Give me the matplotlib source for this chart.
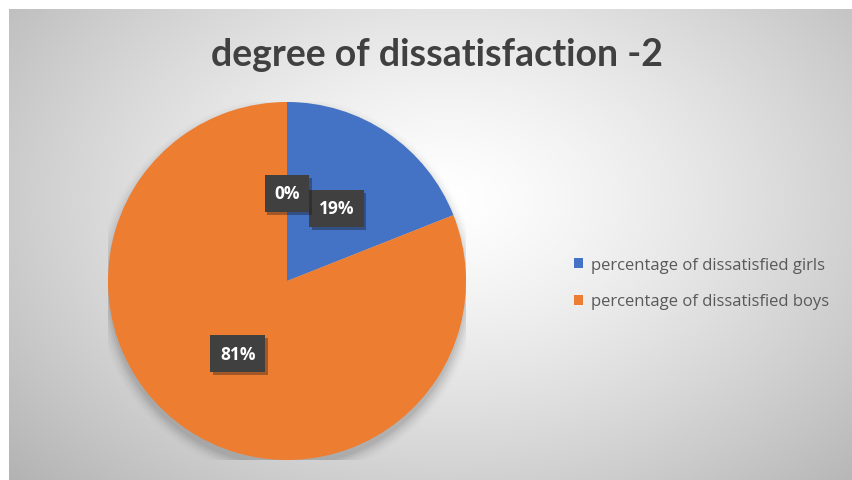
import matplotlib
matplotlib.use("Agg")
import matplotlib.pyplot as plt
import numpy as np
from matplotlib.patches import Circle, Patch
from matplotlib import patheffects as pe

# ---- data ----
title = "degree of dissatisfaction -2"
categories = ["percentage of dissatisfied girls", "percentage of dissatisfied boys", ""]
values = [19, 81, 0]
colors = ["#4472C4", "#ED7D31", "#A5A5A5"]

W, H = 853, 481
fig = plt.figure(figsize=(W / 100, H / 100), dpi=100)
fig.patch.set_facecolor("white")

# ---- background gradient (chart area) ----
left_px, top_px = 9, 10
bg = fig.add_axes([left_px / W, 0, 1 - left_px / W, 1 - top_px / H])
bw, bh = W - left_px, H - top_px
yy, xx = np.mgrid[0:bh, 0:bw]
cx, cy = 440, 190
d = np.sqrt(((xx - cx) / 520.0) ** 2 + ((yy - cy) / 360.0) ** 2)
v = 1.0 - 0.25 * np.clip(d, 0, 1.2) ** 1.3
img = np.dstack([v, v, v])
bg.imshow(img, aspect="auto", extent=[0, bw, bh, 0], interpolation="bilinear")
bg.set_axis_off()

# ---- pie ----
pcx, pcy, r = 287, 282, 179
ax = fig.add_axes([(pcx - r) / W, (H - pcy - r) / H, 2 * r / W, 2 * r / H])
ax.set_axis_off()

# soft shadow
for i, a in enumerate(np.linspace(0.05, 0.01, 6)):
    ax.add_patch(Circle((0.0, -0.035), 1.0 + 0.012 * i, color="black", alpha=a, lw=0, zorder=0))

wedges, texts, autotexts = ax.pie(
    values, colors=colors, startangle=90, counterclock=False, radius=1.0,
    autopct="%.0f%%", pctdistance=0.49,
    wedgeprops=dict(linewidth=0),
    textprops=dict(color="white", fontsize=12.5, fontweight="bold", family="Open Sans"),
)
ax.set_xlim(-1, 1)
ax.set_ylim(-1, 1)
ax.set_aspect("equal")
for t in autotexts:
    t.set_bbox(dict(boxstyle="square,pad=0.55", fc="#404040", ec="none"))
    t.get_bbox_patch().set_path_effects([pe.SimplePatchShadow(offset=(2, -2), alpha=0.35), pe.Normal()])
    t.set_zorder(5)

# ---- title ----
fig.text(437 / W, 1 - 55 / H, title, ha="center", va="center",
         fontsize=27, fontweight="bold", color="#404040", family="Lato")

# ---- legend ----
handles = [Patch(facecolor=c, edgecolor="none") for c in colors[:2]]
leg = fig.legend(handles, categories[:2], loc="center left",
                 bbox_to_anchor=(559 / W, 1 - 284 / H), frameon=False,
                 handlelength=0.55, handleheight=0.55,
                 handletextpad=0.5, labelspacing=1.25,
                 prop=dict(family="Open Sans", size=12))
for t in leg.get_texts():
    t.set_color("#595959")

fig.savefig("out.png", dpi=100)
